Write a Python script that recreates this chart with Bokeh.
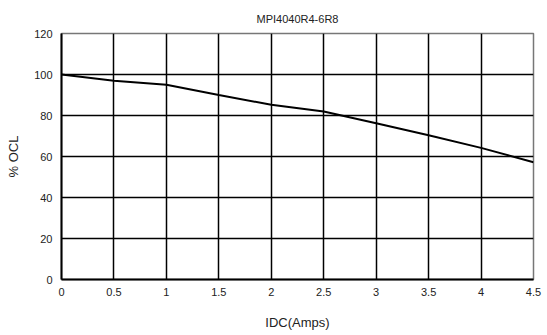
from bokeh.plotting import figure
from bokeh.embed import file_html
from bokeh.resources import INLINE
from bokeh.models import Range1d, FixedTicker

title_text = "MPI4040R4-6R8"
x_label = "IDC(Amps)"
y_label = "% OCL"
idc = [0, 0.5, 1.0, 1.5, 2.0, 2.5, 3.0, 3.5, 4.0, 4.5]
ocl = [100, 97, 95, 90, 85.2, 82, 76.2, 70.4, 64.2, 57.2]
x_ticks = [0, 0.5, 1, 1.5, 2, 2.5, 3, 3.5, 4, 4.5]
y_ticks = [0, 20, 40, 60, 80, 100, 120]

FONT = "Liberation Sans"

p = figure(width=547, height=335, output_backend="svg", toolbar_location=None,
           min_border_left=61, min_border_right=14, min_border_top=33, min_border_bottom=56,
           x_range=Range1d(0, 4.5), y_range=Range1d(0, 120))

p.title.text = title_text
p.title.align = "center"
p.title.text_font = FONT
p.title.text_font_size = "11px"
p.title.text_font_style = "normal"
p.title.text_color = "#222222"
p.title.standoff = 18

p.line(idc, ocl, line_color="black", line_width=2)

p.xaxis.ticker = FixedTicker(ticks=x_ticks)
p.yaxis.ticker = FixedTicker(ticks=y_ticks)
p.xaxis.major_label_overrides = {t: ("%g" % t) for t in x_ticks}
for ax in (p.xaxis, p.yaxis):
    ax.axis_line_color = "black"
    ax.axis_line_width = 2
    ax.major_tick_in = 0
    ax.major_tick_out = 0
    ax.minor_tick_in = 0
    ax.minor_tick_out = 0
    ax.major_label_text_font = FONT
    ax.major_label_text_font_size = "11px"
    ax.major_label_text_color = "#222222"
    ax.axis_label_text_font = FONT
    ax.axis_label_text_font_size = "13px"
    ax.axis_label_text_font_style = "normal"
    ax.axis_label_text_color = "#222222"

p.xaxis.axis_label = x_label
p.yaxis.axis_label = y_label
p.xaxis.major_label_standoff = 8
p.yaxis.major_label_standoff = 9
p.xaxis.axis_label_standoff = 16
p.yaxis.axis_label_standoff = 10

p.xgrid.grid_line_color = "black"
p.ygrid.grid_line_color = "black"
p.xgrid.grid_line_width = 1.5
p.ygrid.grid_line_width = 1.5
p.outline_line_color = "#777777"
p.outline_line_width = 1.5
p.background_fill_color = "white"
p.border_fill_color = "white"

open("out.html", "w").write(file_html(p, INLINE))
